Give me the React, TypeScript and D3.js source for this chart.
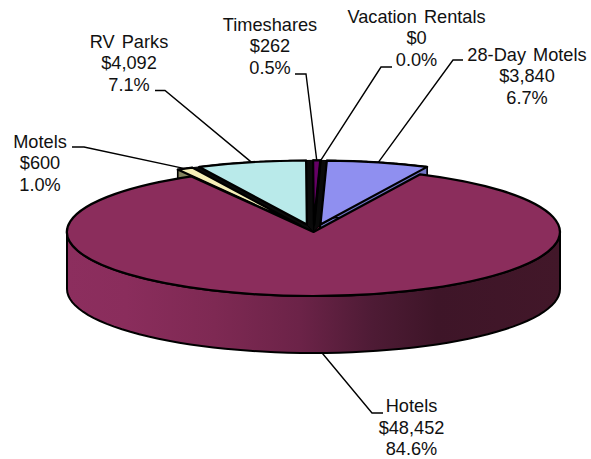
// App.tsx - exploded 3D pie of revenue by lodging type
import React from "react";
import * as d3 from "d3";

const categories = ["28-Day Motels", "Hotels", "Motels", "RV Parks", "Timeshares", "Vacation Rentals"];
const values = [3840, 48452, 600, 4092, 262, 0];
const fills = ["#8f8ff0", "#8b2d5c", "#f6efb8", "#b9eaea", "#660066", "#a03060"];
const wallFills = ["#7276c8", "#6e2449", "#85855f", "#8db5b5", "#4a004a", "#702040"];

// label placement: centre x, first baseline, then the two leader bend points
const labelX = [527, 411.5, 40, 129, 270, 416.5];
const labelY = [61, 412.3, 148, 48, 31, 23];
const leaderStart = [[463, 60], [383, 413], [72, 147], [155, 90.5], [295, 74], [392, 67]];
const leaderBend = [[453, 60], [372, 413], [84, 147], [165, 90.5], [306, 74], [381, 67]];

const width = 591;
const height = 459;
const cx = 313.5;
const cy = 232;
const rx = 246.5;
const ry = 64;
const depth = 57;
const explode = 0.12;
const lineH = 21.3;

const total = d3.sum(values);
const fmtMoney = d3.format("$,");
const fmtPct = d3.format(".1%");

const pie = d3
  .pie<number>()
  .sortValues(null)
  .startAngle((1.5 * Math.PI) / 180)
  .endAngle((361.5 * Math.PI) / 180);
const slices = pie(values);

// unit circle arc, squashed to an ellipse by the transform on the path
const arc = d3.arc<any>().innerRadius(0).outerRadius(1);

const centerOf = (d: any, i: number) => {
  // Hotels stays put, everything else is pulled out along its mid angle
  if (i === 1) return [cx, cy];
  const mid = (d.startAngle + d.endAngle) / 2;
  return [cx + Math.sin(mid) * rx * explode, cy - Math.cos(mid) * ry * explode];
};

const rim = (c: number[], a: number, dy = 0): [number, number] => [
  c[0] + Math.sin(a) * rx,
  c[1] - Math.cos(a) * ry + dy,
];

const line = d3.line();

const arcPoints = (c: number[], a0: number, a1: number, dy = 0) =>
  d3.range(0, 61).map((k) => rim(c, a0 + ((a1 - a0) * k) / 60, dy));

// side faces of a slice pulled out of the pie
const sideFaces = (d: any, i: number) => {
  const c = centerOf(d, i);
  const apex: [number, number] = [c[0], c[1]];
  const apexLow: [number, number] = [c[0], c[1] + depth];
  const outer = [
    ...arcPoints(c, d.startAngle, d.endAngle),
    ...arcPoints(c, d.endAngle, d.startAngle, depth),
  ];
  return [
    [apex, rim(c, d.startAngle), rim(c, d.startAngle, depth), apexLow],
    [apex, rim(c, d.endAngle), rim(c, d.endAngle, depth), apexLow],
    outer,
  ].map((pts) => line(pts as [number, number][]) + "Z");
};

// dark notch between two neighbouring pulled-out slices
const gapOrder = [2, 3, 4, 5, 0];
const gapPaths = d3.pairs(gapOrder).map(([a, b]) => {
  const ca = centerOf(slices[a], a);
  const cb = centerOf(slices[b], b);
  return (
    line([
      [cx, cy],
      [ca[0], ca[1]],
      rim(ca, slices[a].endAngle),
      rim(cb, slices[b].startAngle),
      [cb[0], cb[1]],
    ] as [number, number][]) + "Z"
  );
});

// front wall of the big slice, only the half facing the viewer
const hotelsWall = () => {
  const a0 = Math.PI / 2;
  const a1 = (3 * Math.PI) / 2;
  const c = [cx, cy];
  return line([...arcPoints(c, a0, a1), ...arcPoints(c, a1, a0, depth)]) + "Z";
};

const wallStops = [
  [0, "#8c2e5e"],
  [0.12, "#8a2d5c"],
  [0.3, "#7e2953"],
  [0.47, "#6c2348"],
  [0.62, "#4e1b35"],
  [0.75, "#3e1528"],
  [1, "#421729"],
];

const Slice = ({ d, i }: { d: any; i: number }) => {
  const c = centerOf(d, i);
  return (
    <path
      d={arc(d) as string}
      transform={`translate(${c[0]},${c[1]}) scale(${rx},${ry})`}
      fill={fills[i]}
      stroke="#000"
      strokeWidth={2.2}
      strokeLinejoin="round"
      vectorEffect="non-scaling-stroke"
    />
  );
};

export default function App() {
  const small = slices.map((d, i) => ({ d, i })).filter((s) => s.i !== 1);
  return (
    <svg
      width={width}
      height={height}
      style={{ position: "absolute", left: 0, top: 0, background: "#fff", display: "block" }}
    >
      <defs>
        <linearGradient id="wall" x1="0" x2="1" y1="0" y2="0">
          {wallStops.map(([o, col]) => (
            <stop key={o as number} offset={o as number} stopColor={col as string} />
          ))}
        </linearGradient>
      </defs>

      {small.map(({ d, i }) =>
        sideFaces(d, i).map((p, k) => (
          <path key={`${i}-${k}`} d={p} fill={wallFills[i]} stroke="#000" strokeWidth={1.6} strokeLinejoin="round" />
        ))
      )}
      {gapPaths.map((p, k) => (
        <path key={k} d={p} fill="#0a0a0a" stroke="#000" strokeWidth={1} />
      ))}
      {small.map(({ d, i }) => (
        <Slice key={i} d={d} i={i} />
      ))}

      <path d={hotelsWall()} fill="url(#wall)" stroke="#000" strokeWidth={2} strokeLinejoin="round" />
      <Slice d={slices[1]} i={1} />

      {slices.map((d, i) => {
        const mid = (d.startAngle + d.endAngle) / 2;
        const end = rim(centerOf(d, i), mid, i === 1 ? depth : 0);
        return (
          <path
            key={categories[i]}
            d={line([leaderStart[i], leaderBend[i], end] as [number, number][]) as string}
            fill="none"
            stroke="#000"
            strokeWidth={1.4}
          />
        );
      })}

      <g fontFamily="'Liberation Sans', Arial, sans-serif" fontSize={18.2} fill="#111" textAnchor="middle" wordSpacing={2}>
        {categories.map((name, i) => (
          <text key={name} x={labelX[i]} y={labelY[i]}>
            <tspan x={labelX[i]}>{name}</tspan>
            <tspan x={labelX[i]} dy={lineH}>{fmtMoney(values[i])}</tspan>
            <tspan x={labelX[i]} dy={lineH}>{fmtPct(values[i] / total)}</tspan>
          </text>
        ))}
      </g>
    </svg>
  );
}
